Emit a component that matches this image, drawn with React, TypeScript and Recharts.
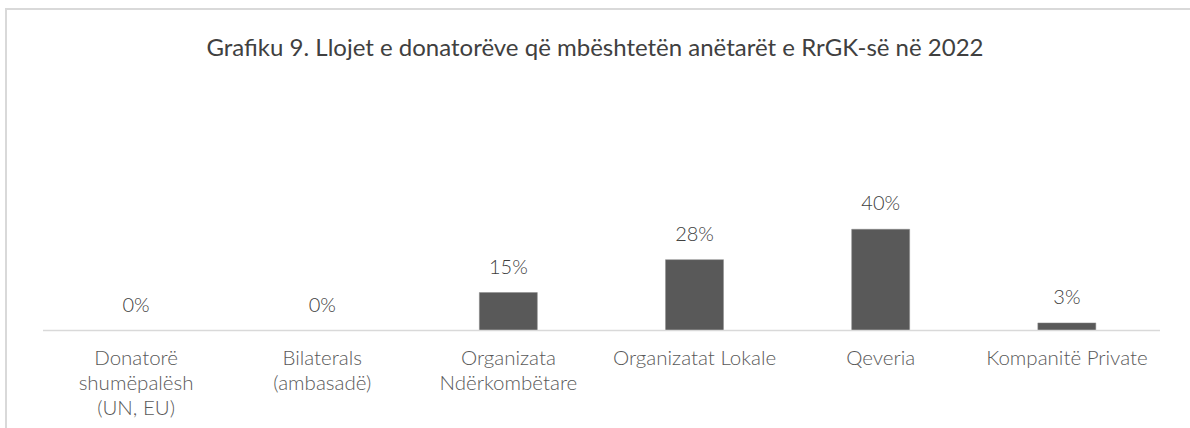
import React from 'react'
import { ComposedChart, Bar, Line, XAxis, YAxis, LabelList } from 'recharts'

const categories = [
  'Donatorë shumëpalësh (UN, EU)',
  'Bilaterals (ambasadë)',
  'Organizata Ndërkombëtare',
  'Organizatat Lokale',
  'Qeveria',
  'Kompanitë Private',
]

const shares = [0, 0, 15, 28, 40, 3]

// label lines as they wrap in the original
const tickLines = [
  ['Donatorë', 'shumëpalësh', '(UN, EU)'],
  ['Bilaterals', '(ambasadë)'],
  ['Organizata', 'Ndërkombëtare'],
  ['Organizatat Lokale'],
  ['Qeveria'],
  ['Kompanitë Private'],
]

const title = 'Grafiku 9. Llojet e donatorëve që mbështetën anëtarët e RrGK-së në 2022'

const FONT = 'Lato, "Open Sans", sans-serif'

const chartData = categories.map((name, i) => ({ name, value: shares[i] }))

function AxisTick(props: any) {
  const { x, y, index } = props
  const lines = tickLines[index] || []
  return (
    <text x={x} y={y} textAnchor="middle" fill="#595959" fontSize={20.5} fontWeight={300} fontFamily={FONT}>
      {lines.map((l, i) => (
        <tspan key={i} x={x} dy={i === 0 ? 34 : 25}>
          {l}
        </tspan>
      ))}
    </text>
  )
}

export default function App() {
  return (
    <div style={{ position: 'absolute', left: 0, top: 0, width: 1190, height: 428, overflow: 'hidden', background: '#fff' }}>
      <div
        style={{
          position: 'absolute',
          left: 5,
          top: 8,
          width: 1220,
          height: 460,
          border: '2px solid #d9d9d9',
          boxSizing: 'border-box',
        }}
      />
      <div
        style={{
          position: 'absolute',
          left: 0,
          top: 33,
          width: 1190,
          textAlign: 'center',
          fontFamily: FONT,
          fontSize: 24,
          color: '#404040',
          lineHeight: '28px',
        }}
      >
        {title}
      </div>
      <div style={{ position: 'absolute', left: 0, top: 0 }}>
        <ComposedChart width={1190} height={428} data={chartData} margin={{ top: 128, right: 30, left: 43, bottom: 0 }}>
          <XAxis
            dataKey="name"
            height={97.5}
            interval={0}
            tickLine={false}
            tickSize={0}
            tickMargin={0}
            axisLine={{ stroke: '#d9d9d9', strokeWidth: 1.5 }}
            tick={<AxisTick />}
          />
          <YAxis hide domain={[0, 80]} />
          <Bar dataKey="value" fill="#595959" stroke="#8c8c8c" strokeWidth={0.5} barSize={58} isAnimationActive={false} />
          <Line dataKey="value" stroke="none" dot={false} activeDot={false} isAnimationActive={false}>
            <LabelList
              dataKey="value"
              position="top"
              offset={19}
              formatter={(v: any) => `${v}%`}
              fill="#404040"
              fontSize={20}
              fontWeight={300}
              fontFamily={FONT}
            />
          </Line>
        </ComposedChart>
      </div>
    </div>
  )
}
